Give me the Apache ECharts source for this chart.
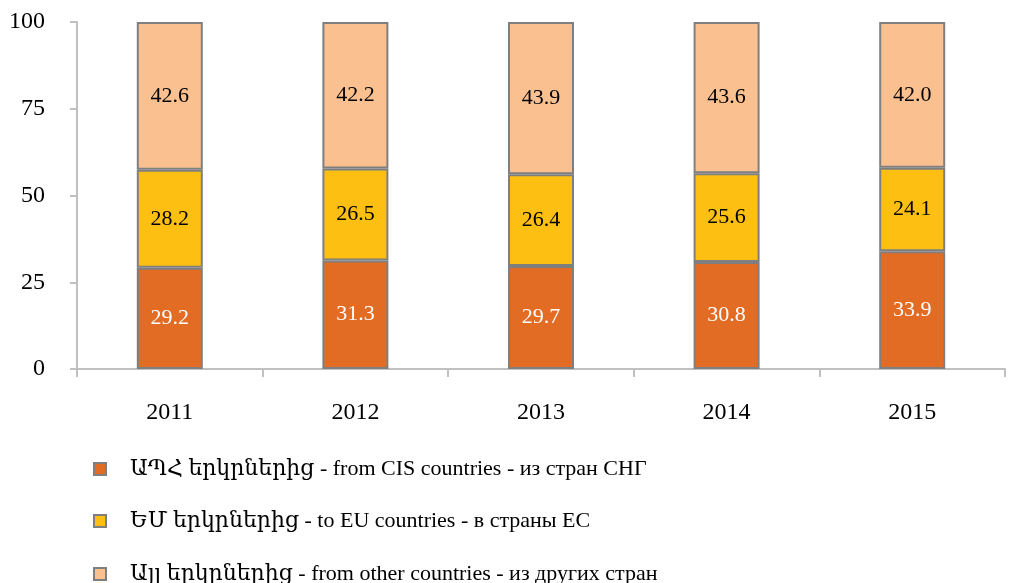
<!DOCTYPE html>
<html>
<head>
<meta charset="utf-8">
<script src="https://cdn.jsdelivr.net/npm/echarts@6/dist/echarts.min.js"></script>
<style>
  html, body { margin: 0; padding: 0; background: #fff; }
  #chart { width: 1009px; height: 583px; }
</style>
</head>
<body>
<div id="chart"></div>
<script>
// years and shares (%)
const years = ['2011', '2012', '2013', '2014', '2015'];
const cisValues = [29.2, 31.3, 29.7, 30.8, 33.9];
const euValues = [28.2, 26.5, 26.4, 25.6, 24.1];
const otherValues = [42.6, 42.2, 43.9, 43.6, 42.0];
const seriesNames = [
  'ԱՊՀ երկրներից - from CIS countries - из стран СНГ',
  'ԵՄ երկրներից - to EU countries - в страны ЕС',
  'Այլ երկրներից - from other countries - из других стран'
];
const yTicks = [0, 25, 50, 75, 100];

const serif = "'Liberation Serif', 'DejaVu Serif', serif";

function barSeries(name, data, color, labelColor) {
  return {
    name: name,
    type: 'bar',
    stack: 'total',
    data: data,
    barWidth: 66,
    itemStyle: { color: color, borderColor: '#7f7f7f', borderWidth: 2 },
    label: {
      show: true,
      position: 'inside',
      color: labelColor,
      fontFamily: serif,
      fontSize: 22,
      formatter: p => p.value.toFixed(1)
    }
  };
}

// one legend per row, so the rows sit where the reference puts them
const legendTops = [458, 510, 563];
const legends = seriesNames.map((n, i) => ({
  orient: 'vertical',
  left: 93,
  top: legendTops[i],
  padding: 0,
  itemWidth: 12,
  itemHeight: 12,
  icon: 'rect',
  textStyle: { color: '#000', fontFamily: serif, fontSize: 22, padding: [0, 0, 0, 19] },
  data: [{ name: n, itemStyle: { borderColor: '#7f7f7f', borderWidth: 2 } }]
}));

const chart = echarts.init(document.getElementById('chart'));
chart.setOption({
  animation: false,
  grid: { left: 77, right: 4, top: 22, bottom: 214 },
  xAxis: {
    type: 'category',
    data: years,
    axisLine: { lineStyle: { color: '#c0c0c0', width: 2 } },
    axisTick: { show: true, length: 8, lineStyle: { color: '#c0c0c0', width: 2 } },
    axisLabel: { color: '#000', fontFamily: serif, fontSize: 24, margin: 32 }
  },
  yAxis: {
    type: 'value',
    min: yTicks[0],
    max: yTicks[yTicks.length - 1],
    interval: 25,
    axisLine: { show: true, lineStyle: { color: '#c0c0c0', width: 2 } },
    axisTick: { show: true, length: 7, lineStyle: { color: '#c0c0c0', width: 2 } },
    splitLine: { show: false },
    axisLabel: { color: '#000', fontFamily: serif, fontSize: 24, margin: 32 }
  },
  legend: legends,
  series: [
    barSeries(seriesNames[0], cisValues, '#e36c25', '#fff'),
    barSeries(seriesNames[1], euValues, '#fcbf12', '#000'),
    barSeries(seriesNames[2], otherValues, '#fac090', '#000')
  ]
});
</script>
</body>
</html>
